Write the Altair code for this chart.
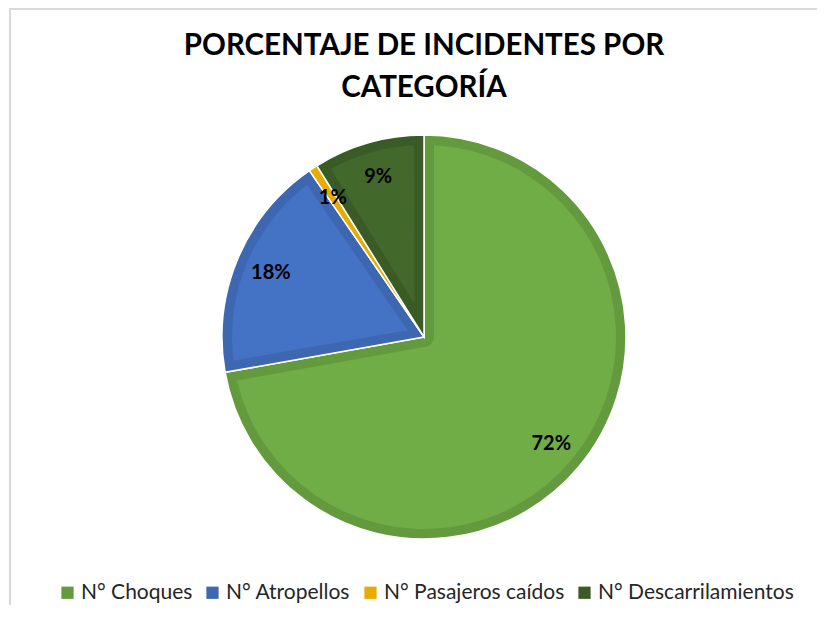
import math
import altair as alt
import pandas as pd

title_lines = ["PORCENTAJE DE INCIDENTES POR", "CATEGORÍA"]
categories = ["N° Choques", "N° Atropellos", "N° Pasajeros caídos", "N° Descarrilamientos"]
values = [72.2, 18.2, 0.7, 8.9]
labels = ["72%", "18%", "1%", "9%"]
light_colors = ["#70AD47", "#4472C4", "#FFC000", "#43682B"]
dark_colors = ["#649A3E", "#3E67B1", "#E6AC00", "#3A5B25"]

R_OUT = 202
BORDER = 10
R_IN = R_OUT - BORDER
CX, CY = 416, 227

total = sum(values)
inner_r = []
for v in values:
    ang = v / total * 2 * math.pi
    if ang >= math.pi:
        inner_r.append(BORDER)
    else:
        inner_r.append(min(0.95 * BORDER / math.sin(ang / 2), R_IN - 1))

df = pd.DataFrame({
    "cat": categories,
    "val": values,
    "lab": labels,
    "fillc": light_colors,
    "ro": [R_IN] * len(values),
    "ri": inner_r,
    "order": list(range(len(values))),
})

base = alt.Chart(df)

theta = alt.Theta("val:Q", stack=True)
order = alt.Order("order:Q")

outer = base.mark_arc(stroke="white", strokeWidth=1.5).encode(
    theta=theta,
    order=order,
    x=alt.value(CX),
    y=alt.value(CY),
    radius=alt.value(R_OUT),
    color=alt.Color(
        "cat:N",
        sort=categories,
        scale=alt.Scale(domain=categories, range=dark_colors),
        legend=alt.Legend(
            title=None,
            orient="none",
            direction="horizontal",
            legendX=49,
            legendY=472,
            symbolType="square",
            symbolSize=150,
            symbolStrokeWidth=0,
            labelFont="Lato",
            labelFontSize=21,
            labelColor="#262626",
            labelOffset=3,
            labelLimit=0,
            columnPadding=9,
            columns=4,
        ),
    ),
)

inner = base.mark_arc(padAngle=2 * math.asin(BORDER / R_IN)).encode(
    theta=theta,
    order=order,
    x=alt.value(CX),
    y=alt.value(CY),
    radius=alt.Radius("ro:Q", scale=None),
    radius2=alt.Radius2("ri:Q"),
    fill=alt.Fill("fillc:N", scale=None),
)

text = base.mark_text(font="Lato", fontSize=20, fontWeight="bold", color="black").encode(
    theta=theta,
    order=order,
    x=alt.value(CX),
    y=alt.value(CY),
    radius=alt.value(166),
    text="lab:N",
)

one = pd.DataFrame({"a": [0]})

frame = alt.Chart(one).mark_rect(
    fill=None, stroke="#D9D9D9", strokeWidth=2
).encode(
    x=alt.value(2), x2=alt.value(2000), y=alt.value(-101), y2=alt.value(2000)
)

title_style = dict(font="Lato", fontSize=29.5, fontWeight="bold", color="black",
                   align="center", baseline="alphabetic")
title1 = alt.Chart(one).mark_text(**title_style).encode(
    x=alt.value(CX), y=alt.value(-55), text=alt.value(title_lines[0])
)
title2 = alt.Chart(one).mark_text(**title_style).encode(
    x=alt.value(CX), y=alt.value(-13), text=alt.value(title_lines[1])
)

chart = alt.layer(frame, outer, inner, text, title1, title2).properties(
    width=809,
    height=450,
    autosize=alt.AutoSizeParams(type="none"),
    padding={"left": 0, "right": 0, "top": 102, "bottom": 45},
).configure_view(stroke=None)

chart.save("out.html", embed_options={"renderer": "svg", "actions": False})
